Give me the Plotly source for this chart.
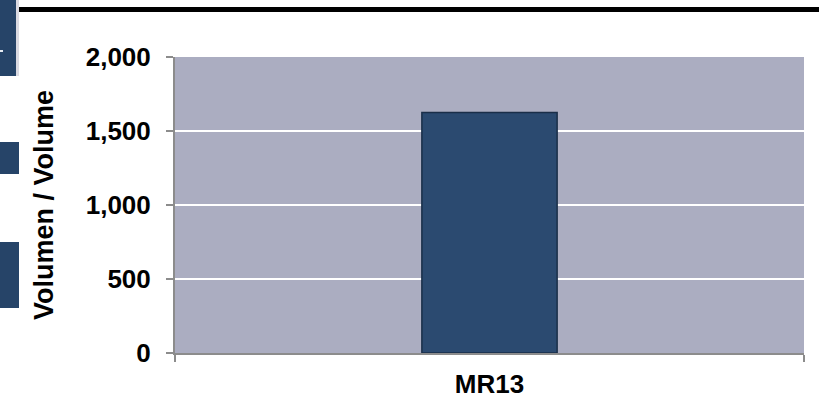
import plotly.graph_objects as go

categories = ["MR13"]
volumes = [1625]
y_tick_vals = [0, 500, 1000, 1500, 2000]
y_tick_text = ["0", "500", "1,000", "1,500", "2,000"]
y_title = "Volumen / Volume"

L, R, T, B = 175, 15, 57, 47
W, H = 819, 400
pw = W - L - R
ph = H - T - B

def px_x(x):
    return (x - L) / pw

def px_y(y):
    return (H - B - y) / ph

font = dict(family="Liberation Sans, Arial, sans-serif", size=26, color="black")

fig = go.Figure()
fig.add_trace(go.Bar(
    x=categories, y=volumes,
    marker=dict(color="#2B4A70", line=dict(color="#1A2E48", width=1.5)),
))

shapes = []
# top black rule
shapes.append(dict(type="rect", xref="paper", yref="paper",
                   x0=px_x(16), x1=px_x(819), y0=px_y(12), y1=px_y(7),
                   fillcolor="black", line=dict(width=0), layer="above"))
# left decorative blocks
for (x0, x1, y0, y1) in [(0, 16, 0, 76), (0, 19, 142, 174), (0, 19, 242, 308)]:
    shapes.append(dict(type="rect", xref="paper", yref="paper",
                       x0=px_x(x0), x1=px_x(x1), y0=px_y(y1), y1=px_y(y0),
                       fillcolor="#264468", line=dict(width=0), layer="above"))
shapes.append(dict(type="rect", xref="paper", yref="paper",
                   x0=px_x(16), x1=px_x(19), y0=px_y(76), y1=px_y(0),
                   fillcolor="#DADAE2", line=dict(width=0), layer="above"))
shapes.append(dict(type="rect", xref="paper", yref="paper",
                   x0=px_x(0), x1=px_x(3), y0=px_y(52), y1=px_y(50),
                   fillcolor="#E8ECF2", line=dict(width=0), layer="above"))

fig.update_layout(
    width=W, height=H,
    margin=dict(l=L, r=R, t=T, b=B, pad=0, autoexpand=False),
    paper_bgcolor="white",
    plot_bgcolor="#ABADC1",
    showlegend=False,
    bargap=0.785,
    font=font,
    shapes=shapes,
    annotations=[dict(text="<b>" + y_title + "</b>", xref="paper", yref="paper",
                      x=px_x(44), y=0.5, textangle=-90, showarrow=False,
                      xanchor="center", yanchor="middle",
                      font=dict(family=font["family"], size=27, color="black"))],
)
fig.update_yaxes(
    range=[0, 2000], tickvals=y_tick_vals,
    ticktext=["<b>" + t + "</b>" for t in y_tick_text],
    showgrid=True, gridcolor="white", gridwidth=1.5,
    showline=True, linecolor="#8C8C8C", linewidth=2,
    ticks="outside", ticklen=7, tickcolor="#8C8C8C", tickwidth=2,
    ticklabelstandoff=10, zeroline=False, automargin=False,
)
fig.update_xaxes(
    tickvals=categories, ticktext=["<b>" + c + "</b>" for c in categories],
    showline=True, linecolor="#8C8C8C", linewidth=2,
    ticks="outside", ticklen=7, tickcolor="#8C8C8C", tickwidth=2,
    tickson="boundaries", ticklabelstandoff=7, automargin=False,
)

fig.write_html("out.html", config={"displayModeBar": False},
               post_script="document.body.style.margin='0px';document.body.style.overflow='hidden';")
